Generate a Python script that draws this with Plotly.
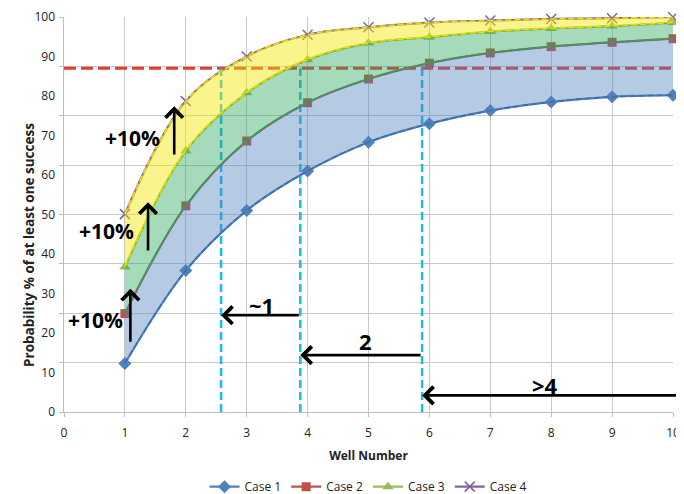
import plotly.graph_objects as go

wells = [1, 2, 3, 4, 5, 6, 7, 8, 9, 10]
case1 = [12.3, 35.8, 51.0, 61.0, 68.3, 73.0, 76.3, 78.5, 79.8, 80.2]
case2 = [24.9, 52.2, 68.6, 78.3, 84.3, 88.3, 90.9, 92.5, 93.6, 94.5]
case3 = [36.7, 66.1, 80.8, 89.2, 93.4, 94.9, 96.3, 97.1, 97.7, 98.6]
case4 = [50.1, 78.7, 90.0, 95.5, 97.4, 98.6, 99.1, 99.5, 99.7, 100.0]

threshold = 87
crossings = [2.58, 3.88, 5.88]
x_ticks = list(range(0, 11))
y_labels = list(range(0, 101, 10))

FONT = "Open Sans"

fig = go.Figure()

# reference lines (beneath bands)
fig.add_trace(go.Scatter(x=[0, 10], y=[threshold, threshold], mode="lines",
                         line=dict(color="#E63B2E", width=3, dash="12px,5px"),
                         showlegend=False, hoverinfo="skip", cliponaxis=False))
for c in crossings:
    fig.add_trace(go.Scatter(x=[c, c], y=[0, threshold], mode="lines",
                             line=dict(color="#1CB8EE", width=2.5, dash="8px,4px"),
                             showlegend=False, hoverinfo="skip"))

series = [
    ("Case 1", case1, "#4F81BD", dict(symbol="diamond", size=10)),
    ("Case 2", case2, "#C0504D", dict(symbol="square", size=9)),
    ("Case 3", case3, "#9BBB59", dict(symbol="triangle-up", size=10)),
    ("Case 4", case4, "#8064A2", dict(symbol="x-thin", size=10, line=dict(width=1.5, color="#8064A2"))),
]
for name, ys, col, mk in series:
    fig.add_trace(go.Scatter(x=wells, y=ys, name=name, mode="lines+markers",
                             line=dict(color=col, width=2.25, shape="spline"),
                             marker=dict(color=col, **mk), cliponaxis=False))

bands = [
    (case1, case2, "rgba(79,129,189,0.42)", "#3E6DA8"),
    (case2, case3, "rgba(40,170,90,0.42)", "#2FA85C"),
    (case3, case4, "rgba(245,230,0,0.45)", "#F2E000"),
]
for lo, hi, fillc, edge in bands:
    fig.add_trace(go.Scatter(x=wells, y=lo, mode="lines",
                             line=dict(color=edge, width=1.5, dash="6px,3px", shape="spline"),
                             showlegend=False, hoverinfo="skip"))
    fig.add_trace(go.Scatter(x=wells, y=hi, mode="lines", fill="tonexty", fillcolor=fillc,
                             line=dict(color=edge, width=1.5, dash="6px,3px", shape="spline"),
                             showlegend=False, hoverinfo="skip"))

# dummy trace for label axis
fig.add_trace(go.Scatter(x=[None], y=[None], yaxis="y2", showlegend=False, hoverinfo="skip"))

annots = []
# up arrows
up_arrows = [(1.09, 17.4, 31.2), (1.38, 40.5, 53.1), (1.81, 64.8, 77.4)]
for x, y0, y1 in up_arrows:
    annots.append(dict(x=x, y=y1, ax=x, ay=y0, xref="x", yref="y", axref="x", ayref="y",
                       showarrow=True, arrowhead=4, arrowsize=1.3, arrowwidth=2.6,
                       arrowcolor="black", text=""))
pct_labels = [(0.51, 23.2), (0.70, 45.9), (1.13, 69.4)]
for x, y in pct_labels:
    annots.append(dict(x=x, y=y, xref="x", yref="y", text="+10%", showarrow=False,
                       font=dict(family=FONT, size=21, color="black", weight="bold")))
# horizontal arrows
h_arrows = [(crossings[0], crossings[1], 24.5), (crossings[1], crossings[2], 14.4), (crossings[2], 10.2, 4.2)]
for xh, xt, y in h_arrows:
    annots.append(dict(x=xh, y=y, ax=xt, ay=y, xref="x", yref="y", axref="x", ayref="y",
                       showarrow=True, arrowhead=4, arrowsize=1.3, arrowwidth=2.6,
                       arrowcolor="black", text=""))
h_labels = [("~1", 3.25, 27.0), ("2", 4.95, 17.9), (">4", 7.9, 6.9)]
for t, x, y in h_labels:
    annots.append(dict(x=x, y=y, xref="x", yref="y", text=t, showarrow=False,
                       font=dict(family=FONT, size=22, color="black", weight="bold")))
# y-axis title
annots.append(dict(x=-0.0575, y=0.423, xref="paper", yref="paper", textangle=-90,
                   xanchor="center", yanchor="middle",
                   text="Probability % of at least one success", showarrow=False,
                   font=dict(family=FONT, size=13.5, color="#222", weight="bold")))

fig.update_layout(
    width=684, height=502,
    margin=dict(l=56, r=19, t=9, b=96),
    paper_bgcolor="white", plot_bgcolor="white",
    font=dict(family=FONT, size=12, color="#222"),
    xaxis=dict(range=[0, 10], tickvals=x_ticks, showgrid=True, gridcolor="#C8C8C8", gridwidth=1.3,
               showline=True, linecolor="#BDBDBD", linewidth=1.3, ticks="outside", ticklen=4,
               tickcolor="#BDBDBD", zeroline=False, tickfont=dict(size=12), automargin=False,
               ticklabelstandoff=5,
               title=dict(text="Well Number", font=dict(size=12, weight="bold"), standoff=12)),
    yaxis=dict(range=[0, 100], dtick=12.5, tick0=0, showgrid=True, gridcolor="#C8C8C8", gridwidth=1.3,
               showline=True, linecolor="#BDBDBD", linewidth=1.3, ticks="outside", ticklen=4,
               tickcolor="#BDBDBD", showticklabels=False, zeroline=False, automargin=False),
    yaxis2=dict(range=[0, 100], overlaying="y", side="left", tickvals=y_labels, showgrid=False,
                zeroline=False, showline=False, ticks="", tickfont=dict(size=12), automargin=False,
                ticklabelstandoff=8),
    legend=dict(orientation="h", x=0.5, xanchor="center", y=-0.189, yanchor="middle",
                font=dict(size=12), traceorder="normal"),
    annotations=annots,
)

fig.write_html("out.html")
